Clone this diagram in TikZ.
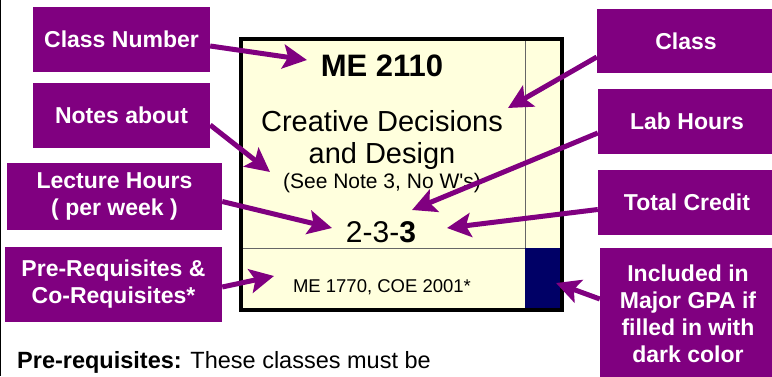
\documentclass[tikz,border=0pt]{standalone}
\usepackage{fontspec}
\setmainfont{Liberation Sans}
\usetikzlibrary{arrows.meta}
\definecolor{lblpurple}{HTML}{800080}
\definecolor{cardyellow}{HTML}{FFFFDD}
\definecolor{gpablue}{HTML}{000066}
\definecolor{rulegray}{HTML}{666666}
\begin{document}
\begin{tikzpicture}[x=1pt,y=-1pt,
  tagbox/.style={fill=lblpurple, text=white, align=center, inner sep=0pt,
    font=\bfseries\fontsize{23}{27}\selectfont},
  pointer/.style={draw=lblpurple, line width=5pt,
    -{Stealth[length=24pt,width=24pt,inset=5pt]}},
  cardtext/.style={anchor=base, inner sep=0pt},
  innerrule/.style={draw=rulegray, line width=1pt},
]
\useasboundingbox (0,0) rectangle (772,376);
\draw[line width=1.3pt] (0.65,0) -- (0.65,376);

% card
\node[fill=cardyellow, minimum width=321pt, minimum height=271pt, inner sep=0pt] (card) at (401.5,174.5) {};
\draw[innerrule] (525,39) -- (525,310);
\draw[innerrule] (241,248) -- (562,248);
\fill[gpablue] (525,248) rectangle (562,310);
\draw[line width=3.5pt] (card.north west) rectangle (card.south east);

\node[cardtext, font=\bfseries\fontsize{31}{36}\selectfont] (num) at (382,76) {ME 2110};
\node[cardtext, font=\fontsize{29}{34}\selectfont] (title1) at (382,131) {Creative Decisions};
\node[cardtext, font=\fontsize{29}{34}\selectfont] (title2) at (382,163) {and Design};
\node[cardtext, font=\fontsize{21}{25}\selectfont] (notes) at (382,188) {(See Note 3, No W\textquotesingle s)};
\node[cardtext, font=\fontsize{30}{35}\selectfont] (hours) at (381,242) {2-3-\textbf{3}};
\node[cardtext, font=\fontsize{18.5}{22}\selectfont] (reqs) at (382,292) {ME 1770, COE 2001*};

% label boxes
\node[tagbox, minimum width=177pt, minimum height=65pt] (classnum) at (121.5,39.5) {Class Number};
\node[tagbox, minimum width=177pt, minimum height=65pt] (notesabout) at (121.5,115.5) {Notes about};
\node[tagbox, minimum width=215pt, minimum height=67pt] (lecture) at (114.5,196.5) {Lecture Hours\\( per week )};
\node[tagbox, minimum width=217pt, minimum height=75pt] (prereq) at (113.5,284.5) {Pre-Requisites \&\\Co-Requisites*};
\node[tagbox, minimum width=178pt, minimum height=64pt] (class) at (686,41) {Class};
\node[tagbox, minimum width=178pt, minimum height=65pt] (lab) at (687,121.5) {Lab Hours};
\node[tagbox, minimum width=178pt, minimum height=65pt] (total) at (687,202.5) {Total Credit};
\node[tagbox, minimum width=176pt, minimum height=132pt] (gpa) at (688,314) {Included in\\Major GPA if\\filled in with\\dark color};

% arrow tips
\coordinate (tnum) at (307,60);
\coordinate (tclass) at (508,108);
\coordinate (tnotes) at (270,172);
\coordinate (tlab) at (412,210);
\coordinate (ttotal) at (447,228);
\coordinate (tlect) at (332,228);
\coordinate (treq) at (274,276);
\coordinate (tgpa) at (556,283);

\draw[pointer] ([yshift=-6.5pt]classnum.east) -- (tnum);
\draw[pointer] ([yshift=-16pt]class.west) -- (tclass);
\draw[pointer] ([yshift=-9.5pt]notesabout.east) -- (tnotes);
\draw[pointer] ([yshift=-11.5pt]lab.west) -- (tlab);
\draw[pointer] ([yshift=-7pt]total.west) -- (ttotal);
\draw[pointer] ([yshift=-5pt]lecture.east) -- (tlect);
\draw[pointer] ([yshift=-2.5pt]prereq.east) -- (treq);
\draw[pointer] ([yshift=15pt]gpa.west) -- (tgpa);

\node[anchor=base west, inner sep=0pt, font=\fontsize{23.5}{28}\selectfont] (footnote) at (17,368) {\textbf{Pre-requisites:} These classes must be};
\end{tikzpicture}
\end{document}
